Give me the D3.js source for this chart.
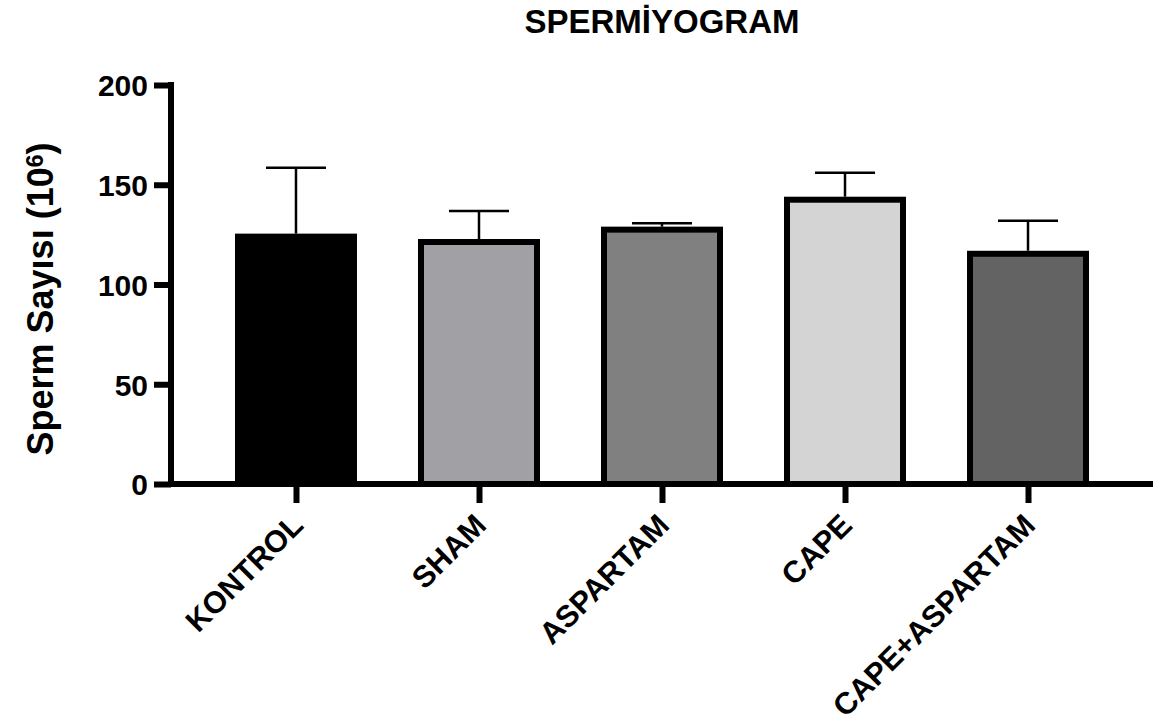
<!DOCTYPE html>
<html>
<head>
<meta charset="utf-8">
<script src="https://cdn.jsdelivr.net/npm/d3@7"></script>
<style>
  body { margin: 0; background: #fff; }
  text { font-family: "Liberation Sans", Arial, sans-serif; font-weight: bold; fill: #000; }
</style>
</head>
<body>
<div id="chart"></div>
<script>
// data
var groups = ["KONTROL", "SHAM", "ASPARTAM", "CAPE", "CAPE+ASPARTAM"];
var means  = [124, 121.3, 127.5, 142.5, 115.4];
var sds    = [34.5, 15.5, 3.2, 13.5, 16.6];
var fills  = ["#000000", "#a1a0a4", "#808080", "#d4d4d4", "#636363"];
var yTicks = [0, 50, 100, 150, 200];

var width = 1161, height = 726;

var svg = d3.select("#chart")
            .append("svg")
            .attr("width", width)
            .attr("height", height);

var x = d3.scalePoint()
          .domain(groups)
          .range([171, 1153])
          .padding(0.683);

var y = d3.scaleLinear()
          .domain([0, 200])
          .range([484, 85]);

var barW = 116;

// bars
svg.append("g")
   .selectAll("rect")
   .data(groups)
   .enter()
   .append("rect")
     .attr("x", function(d){ return x(d) - barW/2; })
     .attr("y", function(d,i){ return y(means[i]); })
     .attr("width", barW)
     .attr("height", function(d,i){ return y(0) - y(means[i]); })
     .attr("fill", function(d,i){ return fills[i]; })
     .attr("stroke", "#000")
     .attr("stroke-width", 6);

// error bars (upper only)
var err = svg.append("g").attr("stroke", "#000").attr("stroke-width", 2.5);
groups.forEach(function(g, i){
  err.append("line")
     .attr("x1", x(g)).attr("x2", x(g))
     .attr("y1", y(means[i]) - 3)
     .attr("y2", y(means[i] + sds[i]));
  err.append("line")
     .attr("x1", x(g) - 30).attr("x2", x(g) + 30)
     .attr("y1", y(means[i] + sds[i]))
     .attr("y2", y(means[i] + sds[i]));
});

// y axis
var yAxis = svg.append("g")
   .attr("transform", "translate(171,0)")
   .call(d3.axisLeft(y).tickValues(yTicks).tickSize(17).tickSizeOuter(0).tickPadding(6));
yAxis.select(".domain").attr("stroke-width", 6).attr("d", "M0," + (y(0) + 3) + "V" + (y(200) - 3));
yAxis.selectAll(".tick line").attr("stroke-width", 6);
yAxis.selectAll(".tick text")
     .style("font-size", "30px")
     .attr("dy", "0.36em");

// x axis
var xAxis = svg.append("g")
   .attr("transform", "translate(0," + y(0) + ")")
   .call(d3.axisBottom(x).tickSize(19).tickSizeOuter(0).tickFormat(""));
xAxis.select(".domain").attr("stroke-width", 6).attr("d", "M168,0H1153");
xAxis.selectAll(".tick line").attr("stroke-width", 6);

// rotated category labels
svg.append("g")
   .selectAll("text")
   .data(groups)
   .enter()
   .append("text")
     .attr("text-anchor", "end")
     .attr("transform", function(d){ return "translate(" + (x(d) + 9) + ",527) rotate(-45)"; })
     .style("font-size", "30.5px")
     .text(function(d){ return d; });

// y title
var yt = svg.append("text")
   .attr("text-anchor", "middle")
   .attr("transform", "translate(53,299) rotate(-90)")
   .style("font-size", "36px");
yt.append("tspan").text("Sperm Sayısı (10");
yt.append("tspan").attr("dy", "-0.45em").style("font-size", "23px").text("6");
yt.append("tspan").attr("dy", "0.3em").text(")");

// title
svg.append("text")
   .attr("x", 662)
   .attr("y", 33)
   .attr("text-anchor", "middle")
   .style("font-size", "33px")
   .text("SPERMİYOGRAM");
</script>
</body>
</html>
